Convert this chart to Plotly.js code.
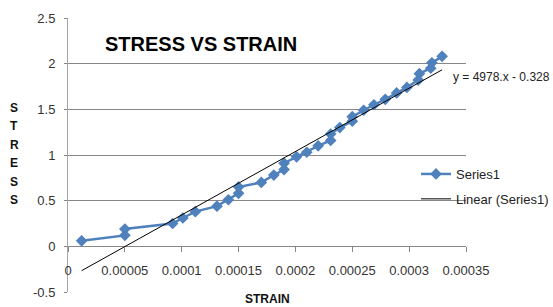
<!DOCTYPE html>
<html><head><meta charset="utf-8">
<script src="https://cdn.plot.ly/plotly-3.0.1.min.js"></script>
<style>html,body{margin:0;padding:0;background:#fff;overflow:hidden}#chart{width:580px;height:307px}</style>
</head><body><div id="chart"></div><script>
// ---- data ----
const strain = [0.000012,0.00005,0.00005,0.000092,0.000101,0.000112,0.000131,0.000141,0.00015,0.00015,
  0.00017,0.000181,0.00019,0.00019,0.000201,0.00021,0.00022,0.000231,0.000231,0.000239,
  0.00025,0.00025,0.00026,0.000269,0.000279,0.000289,0.000298,0.000308,0.000309,0.000319,0.00032,0.000329];
const stress = [0.06,0.12,0.19,0.25,0.31,0.38,0.44,0.51,0.58,0.65,
  0.70,0.78,0.84,0.91,0.98,1.03,1.10,1.16,1.23,1.30,
  1.37,1.42,1.49,1.55,1.61,1.68,1.74,1.82,1.89,1.95,2.01,2.08];
const xTickVals = [0,0.00005,0.0001,0.00015,0.0002,0.00025,0.0003,0.00035];
const xTickText = ['0','0.00005','0.0001','0.00015','0.0002','0.00025','0.0003','0.00035'];
const yTickVals = [-0.5,0,0.5,1,1.5,2,2.5];
const yTickText = ['-0.5','0','0.5','1','1.5','2','2.5'];
const seriesName = 'Series1';
const trendName = 'Linear (Series1)';
const titleText = 'STRESS VS STRAIN';
const xTitleText = 'STRAIN';
const yTitleLetters = ['S','T','R','E','S','S'];
const equationText = 'y = 4978.x - 0.328';

// ---- least-squares linear trendline ----
const n = strain.length;
const mx = strain.reduce((a,b)=>a+b,0)/n, my = stress.reduce((a,b)=>a+b,0)/n;
let sxy=0, sxx=0;
for (let i=0;i<n;i++){ sxy+=(strain[i]-mx)*(stress[i]-my); sxx+=(strain[i]-mx)**2; }
const slope = sxy/sxx, icpt = my - slope*mx;
const tx = [Math.min(...strain), Math.max(...strain)];
const ty = tx.map(v=>slope*v+icpt);

// ---- layout helpers (pixel -> paper) ----
const L=68, R=466, T=18, B=292, W=580, H=307;
const px = x => (x-L)/(R-L);
const py = y => (B-y)/(B-T);

const FONT = 'Liberation Sans, Arial, sans-serif';
const GRID = '#878787';

const traces = [
  {x: strain, y: stress, name: seriesName, type:'scatter', mode:'lines+markers', legendgroup:'a',
   line:{color:'#4F81BD', width:2.5}, marker:{symbol:'diamond', size:9, color:'#4F81BD'}},
  {x: tx, y: ty, name: trendName, type:'scatter', mode:'lines', legendgroup:'b',
   line:{color:'#000000', width:1}}
];

const annotations = [
  {text:titleText, xref:'paper', yref:'paper', x:px(103), y:py(44), xanchor:'left', yanchor:'middle',
   showarrow:false, font:{family:FONT, size:20, color:'#000', weight:'bold'}},
  {text:equationText, xref:'paper', yref:'paper', x:px(451), y:py(77), xanchor:'left', yanchor:'middle',
   showarrow:false, font:{family:FONT, size:12, color:'#222'}},
  {text:xTitleText, xref:'paper', yref:'paper', x:px(267), y:py(299), xanchor:'center', yanchor:'middle',
   showarrow:false, font:{family:FONT, size:12, color:'#111', weight:'bold'}}
];
yTitleLetters.forEach((ch,i)=>{
  annotations.push({text:ch, xref:'paper', yref:'paper', x:px(14), y:py(108+i*18.4), xanchor:'center', yanchor:'middle',
    showarrow:false, font:{family:FONT, size:12, color:'#111', weight:'bold'}});
});

const layout = {
  width:W, height:H, margin:{l:L, r:W-R, t:T, b:H-B, pad:0},
  paper_bgcolor:'#fff', plot_bgcolor:'rgba(0,0,0,0)',
  font:{family:FONT, size:13, color:'#333'},
  showlegend:true,
  legend:{x:px(416), y:py(159), xanchor:'left', yanchor:'top', bgcolor:'rgba(0,0,0,0)',
    font:{family:FONT, size:13, color:'#222'}, tracegroupgap:5},
  xaxis:{range:[0,0.00035], anchor:'free', position:0.5/3, showgrid:false, zeroline:false, showline:false,
    tickmode:'array', tickvals:xTickVals, ticktext:xTickText, ticks:'outside', ticklen:5, tickcolor:GRID,
    ticklabelstandoff:7, tickfont:{family:FONT, size:13, color:'#333'}, fixedrange:true},
  yaxis:{range:[-0.5,2.5], showgrid:true, gridcolor:GRID, gridwidth:1, zeroline:false,
    showline:true, linecolor:'#a6a6a6', linewidth:1,
    tickmode:'array', tickvals:yTickVals, ticktext:yTickText, ticks:'outside', ticklen:3, tickcolor:GRID,
    ticklabelstandoff:6, tickfont:{family:FONT, size:13, color:'#333'}, fixedrange:true},
  annotations: annotations
};

Plotly.newPlot('chart', traces, layout, {displayModeBar:false, staticPlot:true});
</script></body></html>
